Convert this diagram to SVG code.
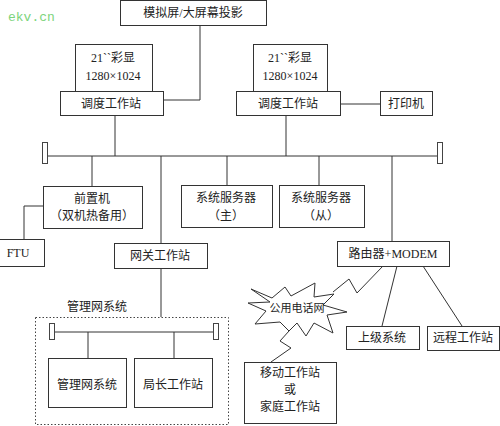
<svg xmlns="http://www.w3.org/2000/svg" width="500" height="426" viewBox="0 0 500 426">
<style>
.b{fill:#fff;stroke:#333;stroke-width:1}
.l{fill:none;stroke:#333;stroke-width:1}
.t{font-family:"Liberation Serif","Noto Sans CJK SC",serif;font-size:12px;fill:#222;text-anchor:middle}
.term{fill:#fff;stroke:#444;stroke-width:1}
</style>
<rect width="500" height="426" fill="#fff"/>
<text x="8" y="21" style="font-family:'Liberation Mono',monospace;font-size:13px;fill:#7cd47c">ekv.cn</text>

<g id="connectors">
<polyline class="l" points="200,25 200,100 163,100"/>
<line class="l" x1="340" y1="104" x2="380" y2="104"/>
<line class="l" x1="115" y1="115" x2="115" y2="156"/>
<line class="l" x1="286" y1="115" x2="286" y2="156"/>
<line class="l" x1="47" y1="156" x2="438" y2="156"/>
<line class="l" x1="92" y1="156" x2="92" y2="186"/>
<line class="l" x1="161" y1="156" x2="161" y2="243"/>
<line class="l" x1="227" y1="156" x2="227" y2="185"/>
<line class="l" x1="319" y1="156" x2="319" y2="185"/>
<line class="l" x1="392" y1="156" x2="392" y2="241"/>
<polyline class="l" points="43,206 24,206 24,239"/>
<line class="l" x1="161" y1="268" x2="161" y2="317"/>
<line class="l" x1="397" y1="266" x2="382" y2="326"/>
<line class="l" x1="423" y1="266" x2="462" y2="326"/>
<polyline class="l" points="383,266 357,293 349,279 333,292"/>
<polyline class="l" points="289,331 280,341 291,348 271,362"/>
<line class="l" x1="55" y1="332" x2="213" y2="332"/>
<line class="l" x1="88" y1="332" x2="88" y2="358"/>
<line class="l" x1="174" y1="332" x2="174" y2="358"/>
<rect class="term" x="42.5" y="142.5" width="5" height="21"/>
<rect class="term" x="437.5" y="142.5" width="5" height="21"/>
<rect class="term" x="49.5" y="323.5" width="5" height="16"/>
<rect class="term" x="213.5" y="323.5" width="5" height="16"/>
</g>

<g id="projection">
<rect class="b" x="120.5" y="0.5" width="146" height="25"/>
<text class="t" x="193" y="17">模拟屏/大屏幕投影</text>
</g>
<g id="monitor-left">
<rect class="b" x="75.5" y="44.5" width="77" height="47"/>
<text class="t" x="113" y="62">21``彩显</text>
<text class="t" x="113" y="80">1280×1024</text>
</g>
<g id="dispatch-left">
<rect class="b" x="60.5" y="91.5" width="103" height="24"/>
<text class="t" x="111" y="108">调度工作站</text>
</g>
<g id="monitor-right">
<rect class="b" x="253.5" y="44.5" width="74" height="47"/>
<text class="t" x="290" y="62">21``彩显</text>
<text class="t" x="290" y="80">1280×1024</text>
</g>
<g id="dispatch-right">
<rect class="b" x="236.5" y="91.5" width="104" height="24"/>
<text class="t" x="288" y="108">调度工作站</text>
</g>
<g id="printer">
<rect class="b" x="380.5" y="91.5" width="52" height="24"/>
<text class="t" x="406" y="108">打印机</text>
</g>
<g id="frontend">
<rect class="b" x="43.5" y="186.5" width="99" height="42"/>
<text class="t" x="92" y="203">前置机</text>
<text class="t" x="92" y="220">（双机热备用）</text>
</g>
<g id="ftu">
<rect class="b" x="-0.5" y="239.5" width="45" height="27"/>
<text class="t" x="18" y="257">FTU</text>
</g>
<g id="gateway">
<rect class="b" x="114.5" y="243.5" width="93" height="25"/>
<text class="t" x="160" y="260">网关工作站</text>
</g>
<g id="server-main">
<rect class="b" x="181.5" y="185.5" width="91" height="42"/>
<text class="t" x="226" y="202">系统服务器</text>
<text class="t" x="226" y="220">（主）</text>
</g>
<g id="server-backup">
<rect class="b" x="279.5" y="185.5" width="85" height="42"/>
<text class="t" x="321" y="202">系统服务器</text>
<text class="t" x="321" y="220">（从）</text>
</g>
<g id="router">
<rect class="b" x="337.5" y="241.5" width="112" height="25"/>
<text class="t" x="393" y="258">路由器+MODEM</text>
</g>
<g id="pstn">
<polygon class="b" points="251,289 272,298 285,287 291,296 315,283 314,297 334,294 323,305 347,312 327,315 333,333 314,323 306,336 297,323 289,331 280,322 255,324 266,311 248,303 270,302"/>
<text class="t" x="297" y="312" style="font-size:11px">公用电话网</text>
</g>
<g id="upper-system">
<rect class="b" x="346.5" y="326.5" width="73" height="23"/>
<text class="t" x="382" y="342">上级系统</text>
</g>
<g id="remote-ws">
<rect class="b" x="427.5" y="326.5" width="72" height="24"/>
<text class="t" x="463" y="342">远程工作站</text>
</g>
<g id="mobile-ws">
<rect class="b" x="244.5" y="362.5" width="92" height="61"/>
<text class="t" x="290" y="377">移动工作站</text>
<text class="t" x="290" y="394">或</text>
<text class="t" x="290" y="411">家庭工作站</text>
</g>
<g id="mgmt-group">
<rect x="35.5" y="317.5" width="193" height="107" fill="none" stroke="#444" stroke-width="1" stroke-dasharray="1.5,2"/>
<text class="t" x="97" y="311">管理网系统</text>
</g>
<g id="mgmt-system">
<rect class="b" x="48.5" y="358.5" width="78" height="49"/>
<text class="t" x="87" y="389">管理网系统</text>
</g>
<g id="director-ws">
<rect class="b" x="134.5" y="358.5" width="78" height="49"/>
<text class="t" x="173" y="389">局长工作站</text>
</g>
</svg>
